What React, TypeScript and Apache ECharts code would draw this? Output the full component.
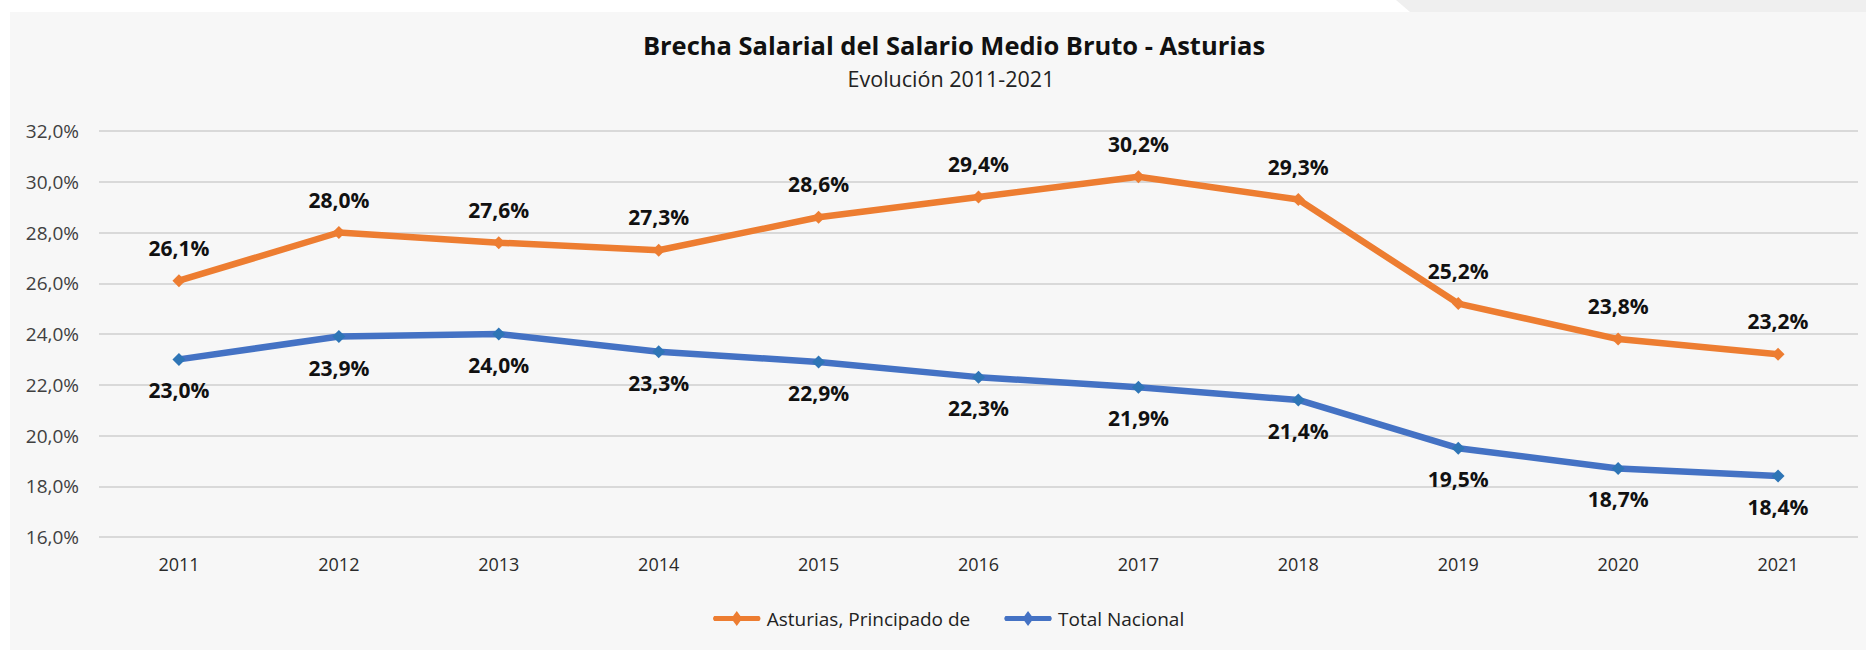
import React, { useEffect, useRef } from "react";
import * as echarts from "echarts";

const years: string[] = ["2011", "2012", "2013", "2014", "2015", "2016", "2017", "2018", "2019", "2020", "2021"];
const asturias: number[] = [26.1, 28.0, 27.6, 27.3, 28.6, 29.4, 30.2, 29.3, 25.2, 23.8, 23.2];
const totalNacional: number[] = [23.0, 23.9, 24.0, 23.3, 22.9, 22.3, 21.9, 21.4, 19.5, 18.7, 18.4];
const seriesNames: string[] = ["Asturias, Principado de", "Total Nacional"];
const titleText = "Brecha Salarial del Salario Medio Bruto - Asturias";
const subtitleText = "Evolución 2011-2021";

const FONT = "'Open Sans', 'Noto Sans', sans-serif";
const fmt = (v: number) => v.toFixed(1).replace(".", ",") + "%";
const legendIcon = "path://M2.5,5 L47.5,5 Q50,7.5 47.5,10 L2.5,10 Q0,7.5 2.5,5 Z M25,0 L30.5,7.5 L25,15 L19.5,7.5 Z";

export default function App() {
  const ref = useRef<HTMLDivElement>(null);
  useEffect(() => {
    document.body.style.margin = "0";
    if (!ref.current) return;
    const chart = echarts.init(ref.current, undefined, { renderer: "svg" });
    const labelStyle = {
      show: true,
      fontFamily: FONT,
      fontWeight: "bold" as const,
      fontSize: 21,
      color: "#111111",
      formatter: (p: any) => fmt(p.value),
    };
    chart.setOption({
      animation: false,
      backgroundColor: "#ffffff",
      textStyle: { fontFamily: FONT },
      graphic: [
        {
          type: "rect",
          z: -10,
          shape: { x: 10, y: 12, width: 1856, height: 638 },
          style: { fill: "#f7f7f7" },
        },
        {
          type: "polygon",
          z: -10,
          shape: { points: [[1396, 0], [1866, 0], [1866, 12], [1410, 12]] },
          style: { fill: "#efefef" },
        },
        {
          type: "text",
          x: 954,
          y: 32,
          style: {
            text: titleText,
            fontFamily: FONT,
            fontWeight: "bold",
            fontSize: 25.5,
            fill: "#111111",
            textAlign: "center",
            textVerticalAlign: "top",
          },
        },
        {
          type: "text",
          x: 951,
          y: 67,
          style: {
            text: subtitleText,
            fontFamily: FONT,
            fontSize: 21.5,
            fill: "#222222",
            textAlign: "center",
            textVerticalAlign: "top",
          },
        },
      ],
      legend: {
        left: 708,
        top: 604,
        itemWidth: 50,
        itemHeight: 15,
        itemGap: 34,
        textStyle: { fontFamily: FONT, fontSize: 19, color: "#222222" },
        data: [
          { name: seriesNames[0], icon: legendIcon, itemStyle: { color: "#ED7D31" } },
          { name: seriesNames[1], icon: legendIcon, itemStyle: { color: "#4472C4" } },
        ],
      },
      grid: { left: 99, right: 8, top: 131, bottom: 113 },
      xAxis: {
        type: "category",
        data: years,
        boundaryGap: true,
        axisLine: { show: false },
        axisTick: { show: false },
        axisLabel: { fontFamily: FONT, fontSize: 18, color: "#2a2a2a", margin: 18 },
      },
      yAxis: {
        type: "value",
        min: 16,
        max: 32,
        interval: 2,
        axisLine: { show: false },
        axisTick: { show: false },
        splitLine: { lineStyle: { color: "#d9d9d9", width: 2 } },
        axisLabel: {
          fontFamily: FONT,
          fontSize: 19,
          color: "#404040",
          margin: 20,
          formatter: (v: number) => fmt(v),
        },
      },
      series: [
        {
          name: seriesNames[0],
          type: "line",
          data: asturias,
          symbol: "diamond",
          symbolSize: 13,
          lineStyle: { color: "#ED7D31", width: 6.5 },
          itemStyle: { color: "#ED7D31" },
          label: { ...labelStyle, position: "top", distance: 16 },
          z: 3,
        },
        {
          name: seriesNames[1],
          type: "line",
          data: totalNacional,
          symbol: "diamond",
          symbolSize: 13,
          lineStyle: { color: "#4472C4", width: 6.5 },
          itemStyle: { color: "#2E75B6" },
          label: { ...labelStyle, position: "bottom", distance: 14 },
          z: 3,
        },
      ],
    });
    return () => chart.dispose();
  }, []);
  return <div ref={ref} style={{ width: 1866, height: 650 }} />;
}
